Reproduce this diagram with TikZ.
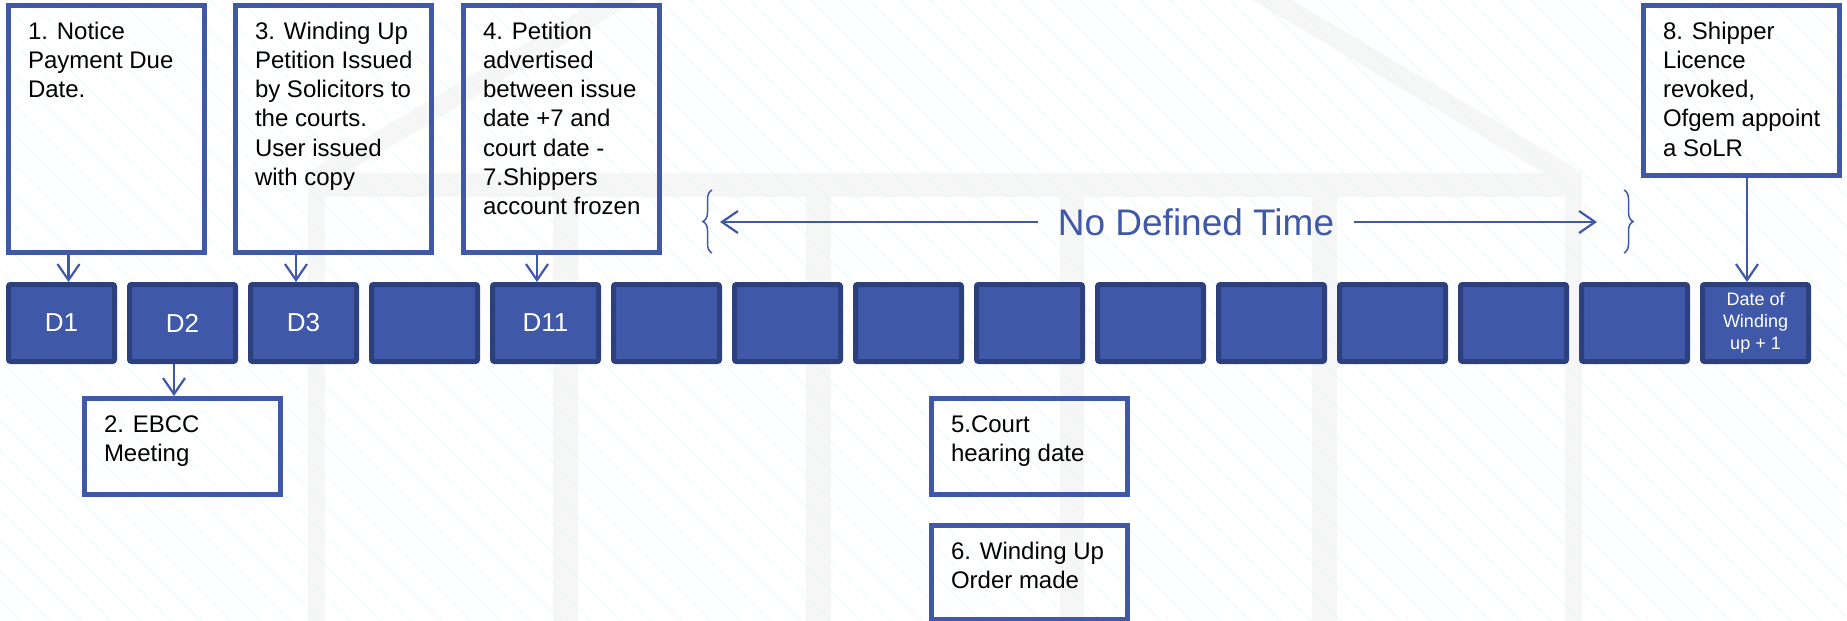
\documentclass[tikz,border=0pt]{standalone}
\usepackage{fontspec}
\setmainfont{Liberation Sans}
\usetikzlibrary{arrows.meta,decorations.pathreplacing}

\definecolor{tlblue}{RGB}{63,89,168}
\definecolor{tldark}{RGB}{45,64,126}
\definecolor{hatchc}{RGB}{233,248,248}
\definecolor{ghost}{RGB}{246,246,246}

% text block inside a note: fixed width and height, lines from the top
\newcommand\notelines[3]{\parbox[c][#2][t]{#1}{\begin{tabular}[t]{@{}l@{}}#3\end{tabular}}}

\tikzset{
  daybox/.style={draw=tldark, fill=tlblue, line width=5pt, rounded corners=2pt,
    minimum width=106pt, minimum height=77pt, inner sep=0pt, anchor=north west,
    text=white, font=\fontsize{26}{31}\selectfont},
  smallday/.style={font=\fontsize{18}{21.7}\selectfont, align=center},
  notebox/.style={draw=tlblue, line width=5pt, inner sep=0pt, anchor=north west,
    minimum width=196pt, font=\fontsize{24}{29.3}\selectfont},
  link/.style={draw=tlblue, line width=2.2pt,
    -{Straight Barb[length=16pt,width=22pt]}},
  bracec/.style={draw=tlblue, line width=1.5pt, decorate,
    decoration={brace, amplitude=9pt}},
  spanlabel/.style={text=tlblue, font=\fontsize{37}{44}\selectfont,
    inner xsep=20pt, inner ysep=0pt},
}

\begin{document}
\begin{tikzpicture}[x=1pt,y=-1pt]
\useasboundingbox (0,0) rectangle (1847,621);
\fill[white] (0,0) rectangle (1847,621);

% faint house emblem and diagonal hatching of the slide background
\begin{scope}
  \clip (0,0) rectangle (1847,621);
  \draw[ghost, line width=20pt] (318,178) -- (945,-194) -- (1572,178);
  \fill[ghost] (308,173) rectangle (1582,197);
  \foreach \a/\b in {308/325, 553/578, 806/831, 1060/1084, 1312/1337, 1565/1582}
    \fill[ghost] (\a,197) rectangle (\b,621);
  \foreach \k in {-660,-630,...,1860}
    \draw[hatchc, line width=0.7pt] (\k,0) -- ++(650,650);
\end{scope}

% day cells
\node[daybox] (day1)  at (6,282)    {D1};
\node[daybox] (day2)  at (127,282)  {D2};
\node[daybox] (day3)  at (248,282)  {D3};
\node[daybox] (day4)  at (369,282)  {};
\node[daybox] (day5)  at (490,282)  {D11};
\node[daybox] (day6)  at (611,282)  {};
\node[daybox] (day7)  at (732,282)  {};
\node[daybox] (day8)  at (853,282)  {};
\node[daybox] (day9)  at (974,282)  {};
\node[daybox] (day10) at (1095,282) {};
\node[daybox] (day11) at (1216,282) {};
\node[daybox] (day12) at (1337,282) {};
\node[daybox] (day13) at (1458,282) {};
\node[daybox] (day14) at (1579,282) {};
\node[daybox, smallday] (day15) at (1700,282) {Date of\\Winding\\up + 1};

% event notes
\node[notebox, minimum height=247pt] (note1) at (6,3)
  {\notelines{157pt}{221pt}{1. Notice\\Payment Due\\Date.}};
\node[notebox, minimum height=247pt] (note3) at (233,3)
  {\notelines{157pt}{221pt}{3. Winding Up\\Petition Issued\\by Solicitors to\\the courts.\\User issued\\with copy}};
\node[notebox, minimum height=247pt] (note4) at (461,3)
  {\notelines{157pt}{221pt}{4. Petition\\advertised\\between issue\\date +7 and\\court date -\\7.Shippers\\account frozen}};
\node[notebox, minimum height=170pt] (note8) at (1641,3)
  {\notelines{157pt}{144pt}{8. Shipper\\Licence\\revoked,\\Ofgem appoint\\a SoLR}};
\node[notebox, minimum height=96pt] (note2) at (82,396)
  {\notelines{157pt}{70pt}{2. EBCC\\Meeting}};
\node[notebox, minimum height=96pt] (note5) at (929,396)
  {\notelines{157pt}{70pt}{5.Court\\hearing date}};
\node[notebox, minimum height=94pt] (note6) at (929,523)
  {\notelines{157pt}{68pt}{6. Winding Up\\Order made}};

% connectors between notes and days
\coordinate (a1) at ([xshift=7pt]day1.north);
\coordinate (a2) at ([xshift=-8.5pt]day2.south);
\coordinate (a3) at ([xshift=-7.5pt]day3.north);
\coordinate (a5) at ([xshift=-8.5pt]day5.north);
\coordinate (a15) at ([xshift=-8.5pt]day15.north);
\draw[link] (note1.south -| a1) -- (a1);
\draw[link] (a2) -- (a2 |- note2.north);
\draw[link] (note3.south -| a3) -- (a3);
\draw[link] (note4.south -| a5) -- (a5);
\draw[link] (note8.south -| a15) -- (a15);

% open-ended span
\node[spanlabel] (span) at (1196,222) {No Defined Time};
\coordinate (lbtip) at (720,222);
\coordinate (rbtip) at (1597,222);
\draw[bracec] (712,253) -- (712,190);
\draw[bracec] (1624,190) -- (1624,253);
\draw[link] (span.west) -- (lbtip);
\draw[link] (span.east) -- (rbtip);
\end{tikzpicture}
\end{document}
